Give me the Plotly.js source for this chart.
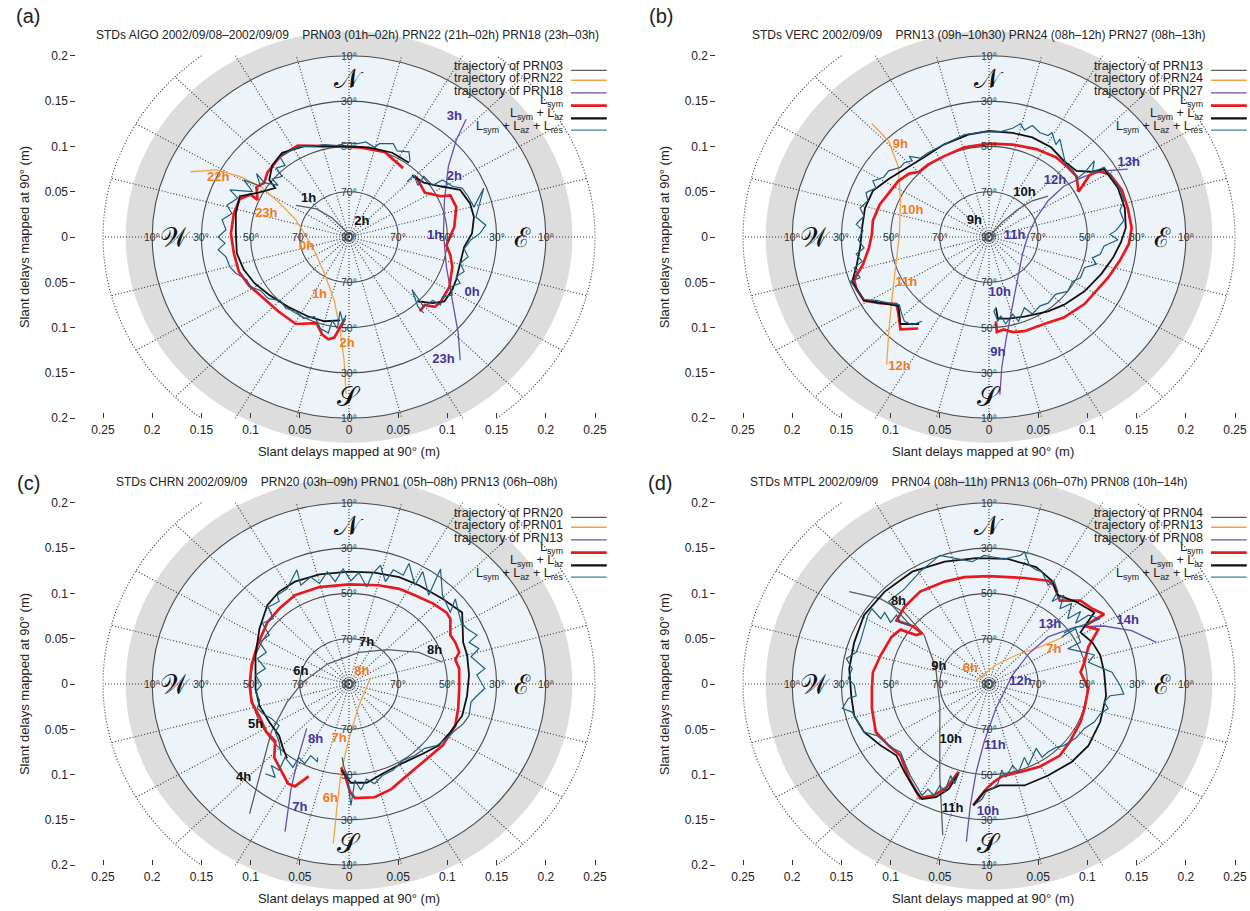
<!DOCTYPE html>
<html><head><meta charset="utf-8">
<script src="https://cdn.plot.ly/plotly-3.0.1.min.js"></script>
<style>html,body{margin:0;padding:0;background:#fff}#chart{width:1250px;height:911px}</style>
</head><body><div id="chart"></div>
<script>
// ---------------- DATA (metres, x = east, y = north) ----------------
const PANEL_LETTERS = ['(a)','(b)','(c)','(d)'];
const SUBTITLES = [
 'STDs AIGO 2002/09/08–2002/09/09\u00a0\u00a0\u00a0\u00a0PRN03 (01h–02h) PRN22 (21h–02h) PRN18 (23h–03h)',
 'STDs VERC 2002/09/09\u00a0\u00a0\u00a0\u00a0PRN13 (09h–10h30) PRN24 (08h–12h) PRN27 (08h–13h)',
 'STDs CHRN 2002/09/09\u00a0\u00a0\u00a0\u00a0PRN20 (03h–09h) PRN01 (05h–08h) PRN13 (06h–08h)',
 'STDs MTPL 2002/09/09\u00a0\u00a0\u00a0\u00a0PRN04 (08h–11h) PRN13 (06h–07h) PRN08 (10h–14h)'];
const PRN_NAMES = [['PRN03','PRN22','PRN18'],['PRN13','PRN24','PRN27'],['PRN20','PRN01','PRN13'],['PRN04','PRN13','PRN08']];
const LEGEND_TEXT = ['trajectory of ','trajectory of ','trajectory of ','L<sub>sym</sub>','L<sub>sym</sub> + L<sub>az</sub>','L<sub>sym</sub> + L<sub>az</sub> + L<sub>res</sub>'];
const X_TICKS = [-0.25,-0.2,-0.15,-0.1,-0.05,0,0.05,0.1,0.15,0.2,0.25];
const X_TICK_TEXT = ['0.25','0.2','0.15','0.1','0.05','0','0.05','0.1','0.15','0.2','0.25'];
const Y_TICKS = [-0.2,-0.15,-0.1,-0.05,0,0.05,0.1,0.15,0.2];
const Y_TICK_TEXT = ['0.2','0.15','0.1','0.05','0','0.05','0.1','0.15','0.2'];
const ELEV_RADII = [0.05,0.1,0.15,0.2];
const ELEV_LABELS = ['70°','50°','30°','10°'];
const AXIS_TITLE = 'Slant delays mapped at 90° (m)';

// ---- panel (a) AIGO ----
const A_red = [[0.055,0.076],[0.036,0.094],[0.011,0.099],[-0.009,0.100],[-0.052,0.101],[-0.070,0.089],[-0.083,0.071],[-0.086,0.060],[-0.094,0.055],[-0.093,0.041],[-0.100,0.047],[-0.111,0.042],[-0.117,0.026],[-0.120,0.004],[-0.117,-0.018],[-0.112,-0.038],[-0.102,-0.053],[-0.088,-0.067],[-0.072,-0.082],[-0.054,-0.096],[-0.033,-0.095],[-0.027,-0.108],[-0.021,-0.113],[-0.015,-0.111],[-0.010,-0.101],[-0.004,-0.090],
 null,[0.068,0.067],[0.077,0.049],[0.093,0.045],[0.103,0.046],[0.109,0.033],[0.107,0.011],[0.099,-0.009],[0.103,-0.020],[0.105,-0.033],[0.102,-0.055],[0.093,-0.072],[0.087,-0.077],[0.077,-0.075],[0.072,-0.082]];
const A_blk = [[0.061,0.082],[0.044,0.093],[0.020,0.099],[-0.009,0.100],[-0.046,0.100],[-0.068,0.093],[-0.078,0.079],[-0.081,0.063],[-0.075,0.054],[-0.092,0.049],[-0.111,0.045],[-0.115,0.026],[-0.115,0.004],[-0.114,-0.018],[-0.107,-0.036],[-0.096,-0.051],[-0.081,-0.064],[-0.062,-0.077],[-0.041,-0.088],[-0.025,-0.093],[-0.009,-0.092],
 null,[0.064,0.068],[0.076,0.060],[0.093,0.056],[0.113,0.052],[0.123,0.037],[0.127,0.022],[0.125,0.004],[0.117,-0.011],[0.113,-0.029],[0.109,-0.047],[0.105,-0.058],[0.097,-0.071],[0.085,-0.073],[0.070,-0.071]];
const A_res = [[0.062,0.083],[0.061,0.094],[0.049,0.095],[0.045,0.103],[0.031,0.103],[0.026,0.099],[0.017,0.105],[0.009,0.103],[-0.001,0.104],[-0.013,0.101],[-0.025,0.102],[-0.037,0.100],[-0.050,0.100],[-0.062,0.094],[-0.070,0.088],[-0.065,0.079],[-0.074,0.076],[-0.068,0.067],[-0.078,0.064],[-0.072,0.057],[-0.086,0.060],[-0.094,0.070],[-0.090,0.056],[-0.107,0.063],[-0.098,0.050],[-0.121,0.052],[-0.113,0.043],[-0.124,0.035],[-0.119,0.026],[-0.129,0.019],[-0.125,0.008],[-0.133,0.000],[-0.126,-0.007],[-0.133,-0.014],[-0.125,-0.022],[-0.121,-0.033],[-0.115,-0.040],[-0.104,-0.047],[-0.100,-0.055],[-0.090,-0.059],[-0.082,-0.068],[-0.070,-0.070],[-0.064,-0.079],[-0.054,-0.082],[-0.046,-0.090],[-0.035,-0.088],[-0.029,-0.101],[-0.021,-0.106],[-0.017,-0.092],[-0.012,-0.101],[-0.009,-0.082],[-0.006,-0.095],[-0.003,-0.086],
 null,[0.059,0.061],[0.066,0.068],[0.070,0.057],[0.076,0.067],[0.085,0.057],[0.095,0.063],[0.105,0.056],[0.115,0.054],[0.121,0.045],[0.127,0.033],[0.137,0.054],[0.129,0.022],[0.139,0.013],[0.133,0.004],[0.124,-0.003],[0.117,-0.013],[0.121,-0.022],[0.113,-0.029],[0.117,-0.038],[0.109,-0.044],[0.113,-0.051],[0.103,-0.055],[0.105,-0.064],[0.095,-0.066],[0.093,-0.075],[0.085,-0.070],[0.076,-0.077],[0.070,-0.068],[0.064,-0.058],[0.070,-0.077],[0.076,-0.084]];
const A_tr1 = [[-0.054,0.035],[-0.033,0.031],[-0.017,0.021],[-0.005,0.008],[0.001,0.002]];
const A_tr2 = [[-0.161,0.072],[-0.135,0.074],[-0.111,0.067],[-0.090,0.056],[-0.070,0.037],[-0.054,0.019],[-0.037,-0.011],[-0.025,-0.040],[-0.015,-0.070],[-0.009,-0.103],[-0.005,-0.136],[-0.003,-0.173]];
const A_tr3 = [[0.119,0.130],[0.109,0.107],[0.101,0.078],[0.097,0.041],[0.096,0.004],[0.099,-0.033],[0.105,-0.070],[0.111,-0.106],[0.113,-0.136]];
const A_h1 = [['1h',-0.041,0.042],['2h',0.013,0.017]];
const A_h2 = [['22h',-0.133,0.065],['23h',-0.084,0.026],['0h',-0.043,-0.011],['1h',-0.030,-0.064],['2h',-0.002,-0.118]];
const A_h3 = [['3h',0.107,0.133],['2h',0.107,0.067],['1h',0.087,0.001],['0h',0.125,-0.062],['23h',0.096,-0.135]];

// ---- panel (b) VERC ----
const B_red = [[-0.072,-0.101],[-0.090,-0.102],[-0.092,-0.085],[-0.094,-0.074],[-0.111,-0.073],[-0.127,-0.070],[-0.135,-0.057],[-0.137,-0.047],[-0.128,-0.030],[-0.122,-0.012],[-0.119,0.003],[-0.118,0.018],[-0.111,0.036],[-0.102,0.048],[-0.092,0.062],[-0.081,0.070],[-0.071,0.072],[-0.062,0.080],[-0.046,0.089],[-0.025,0.099],[0.000,0.103],[0.024,0.102],[0.048,0.097],[0.068,0.088],[0.080,0.077],[0.089,0.067],[0.091,0.050],[0.102,0.068],[0.111,0.073],[0.123,0.069],[0.135,0.052],[0.141,0.032],[0.145,0.010],[0.142,-0.008],[0.133,-0.026],[0.121,-0.045],[0.109,-0.060],[0.097,-0.074],[0.076,-0.089],[0.056,-0.096],[0.036,-0.104],[0.024,-0.105],[0.015,-0.102],[0.008,-0.105],[0.007,-0.093]];
const B_blk = [[-0.071,-0.096],[-0.090,-0.096],[-0.092,-0.076],[-0.111,-0.073],[-0.127,-0.070],[-0.139,-0.049],[-0.135,-0.034],[-0.131,-0.012],[-0.129,0.010],[-0.126,0.032],[-0.118,0.051],[-0.102,0.064],[-0.082,0.077],[-0.066,0.088],[-0.046,0.102],[-0.021,0.113],[0.000,0.117],[0.024,0.115],[0.044,0.110],[0.063,0.099],[0.076,0.084],[0.089,0.073],[0.103,0.072],[0.117,0.075],[0.131,0.054],[0.138,0.032],[0.139,0.010],[0.134,-0.006],[0.126,-0.023],[0.114,-0.041],[0.097,-0.060],[0.076,-0.075],[0.060,-0.082],[0.036,-0.088],[0.020,-0.090],[0.009,-0.090],[0.007,-0.078]];
const B_res = [[-0.068,-0.093],[-0.078,-0.097],[-0.086,-0.093],[-0.089,-0.084],[-0.091,-0.075],[-0.102,-0.073],[-0.115,-0.070],[-0.127,-0.069],[-0.133,-0.060],[-0.141,-0.049],[-0.131,-0.045],[-0.137,-0.034],[-0.129,-0.027],[-0.135,-0.019],[-0.127,-0.012],[-0.133,-0.003],[-0.128,0.007],[-0.135,0.014],[-0.127,0.023],[-0.131,0.032],[-0.123,0.040],[-0.125,0.049],[-0.115,0.054],[-0.118,0.062],[-0.107,0.066],[-0.102,0.073],[-0.090,0.077],[-0.086,0.082],[-0.078,0.084],[-0.081,0.089],[-0.070,0.087],[-0.062,0.093],[-0.046,0.102],[-0.025,0.113],[-0.005,0.116],[0.011,0.116],[0.024,0.120],[0.032,0.125],[0.036,0.118],[0.044,0.123],[0.052,0.115],[0.060,0.112],[0.064,0.115],[0.068,0.102],[0.072,0.108],[0.076,0.088],[0.078,0.080],[0.085,0.075],[0.089,0.064],[0.097,0.071],[0.107,0.084],[0.105,0.071],[0.117,0.077],[0.123,0.069],[0.133,0.053],[0.137,0.040],[0.133,0.029],[0.137,0.018],[0.129,0.007],[0.123,0.003],[0.131,-0.003],[0.117,-0.010],[0.113,-0.019],[0.105,-0.023],[0.109,-0.030],[0.097,-0.034],[0.093,-0.045],[0.085,-0.049],[0.080,-0.060],[0.068,-0.063],[0.060,-0.073],[0.052,-0.076],[0.044,-0.085],[0.036,-0.078],[0.030,-0.093],[0.024,-0.085],[0.017,-0.096],[0.012,-0.087],[0.009,-0.093],[0.005,-0.082],[0.007,-0.078]];
const B_tr1 = [[0.000,0.000],[0.013,0.016],[0.030,0.031],[0.044,0.040],[0.060,0.045]];
const B_tr2 = [[-0.119,0.125],[-0.102,0.106],[-0.092,0.077],[-0.090,0.040],[-0.091,0.003],[-0.095,-0.034],[-0.099,-0.071],[-0.102,-0.107],[-0.104,-0.141]];
const B_tr3 = [[0.141,0.075],[0.117,0.073],[0.097,0.067],[0.076,0.056],[0.060,0.040],[0.048,0.021],[0.040,0.003],[0.034,-0.019],[0.030,-0.041],[0.026,-0.063],[0.022,-0.089],[0.017,-0.115],[0.013,-0.144],[0.011,-0.174]];
const B_h1 = [['9h',-0.015,0.018],['10h',0.036,0.049]];
const B_h2 = [['9h',-0.090,0.102],['10h',-0.078,0.029],['11h',-0.084,-0.050],['12h',-0.091,-0.143]];
const B_h3 = [['13h',0.142,0.082],['12h',0.067,0.062],['11h',0.026,0.001],['10h',0.011,-0.062],['9h',0.009,-0.128]];

// ---- panel (c) CHRN ----
const C_red = [[-0.008,-0.092],[-0.004,-0.101],[0.001,-0.119],[0.006,-0.126],[0.026,-0.125],[0.043,-0.116],[0.059,-0.101],[0.075,-0.086],[0.095,-0.068],[0.108,-0.046],[0.111,-0.027],[0.112,-0.005],[0.112,0.017],[0.108,0.027],[0.112,0.035],[0.108,0.046],[0.103,0.054],[0.103,0.072],[0.099,0.079],[0.085,0.089],[0.067,0.098],[0.051,0.105],[0.030,0.109],[0.000,0.110],[-0.030,0.107],[-0.055,0.098],[-0.071,0.083],[-0.083,0.068],[-0.093,0.043],[-0.099,0.021],[-0.101,-0.001],[-0.099,-0.020],[-0.091,-0.036],[-0.084,-0.053],[-0.075,-0.063],[-0.076,-0.081],[-0.071,-0.092],[-0.062,-0.110],[-0.055,-0.113],[-0.041,-0.102]];
const C_blk = [[-0.008,-0.095],[0.002,-0.109],[0.018,-0.109],[0.034,-0.099],[0.055,-0.087],[0.075,-0.077],[0.091,-0.068],[0.103,-0.053],[0.115,-0.035],[0.120,-0.013],[0.122,0.010],[0.120,0.032],[0.116,0.046],[0.115,0.079],[0.095,0.094],[0.071,0.109],[0.051,0.118],[0.026,0.123],[0.000,0.124],[-0.030,0.121],[-0.055,0.113],[-0.071,0.102],[-0.083,0.087],[-0.091,0.061],[-0.095,0.032],[-0.095,-0.005],[-0.091,-0.024],[-0.081,-0.042],[-0.071,-0.057],[-0.067,-0.071],[-0.063,-0.082]];
const C_res = [[-0.085,-0.099],[-0.075,-0.103],[-0.079,-0.090],[-0.071,-0.095],[-0.065,-0.081],[-0.057,-0.092],[-0.051,-0.081],[-0.045,-0.088],[-0.039,-0.079],[-0.032,-0.086],[-0.032,-0.081],
 null,[-0.069,-0.079],[-0.071,-0.064],[-0.075,-0.053],[-0.071,-0.046],[-0.079,-0.038],[-0.087,-0.033],[-0.093,-0.027],[-0.091,-0.018],[-0.095,-0.009],[-0.089,-0.001],[-0.095,0.010],[-0.085,0.017],[-0.093,0.028],[-0.084,0.035],[-0.091,0.046],[-0.081,0.054],[-0.088,0.067],[-0.077,0.072],[-0.082,0.085],[-0.071,0.091],[-0.073,0.098],[-0.063,0.105],[-0.053,0.126],[-0.049,0.109],[-0.039,0.118],[-0.030,0.111],[-0.022,0.124],[-0.014,0.113],[-0.006,0.127],[0.002,0.114],[0.010,0.123],[0.018,0.107],[0.024,0.122],[0.032,0.131],[0.037,0.113],[0.045,0.126],[0.055,0.120],[0.061,0.133],[0.067,0.109],[0.075,0.124],[0.081,0.098],[0.087,0.113],[0.093,0.127],[0.095,0.098],[0.103,0.079],[0.108,0.094],[0.114,0.068],[0.120,0.061],[0.130,0.054],[0.122,0.046],[0.132,0.039],[0.124,0.030],[0.138,0.017],[0.130,0.010],[0.138,-0.005],[0.130,-0.013],[0.124,-0.020],[0.122,-0.035],[0.116,-0.044],[0.108,-0.051],[0.099,-0.060],[0.089,-0.068],[0.077,-0.071],[0.067,-0.079],[0.055,-0.084],[0.045,-0.095],[0.034,-0.101],[0.026,-0.110],[0.018,-0.105],[0.012,-0.117],[0.006,-0.106],[0.002,-0.134],[-0.002,-0.101],[-0.005,-0.092],[-0.007,-0.081]];
const C_tr1 = [[-0.101,-0.143],[-0.091,-0.101],[-0.079,-0.053],[-0.063,-0.020],[-0.047,0.002],[-0.022,0.022],[0.010,0.035],[0.039,0.038],[0.071,0.035],[0.095,0.024]];
const C_tr2 = [[0.022,0.007],[0.010,-0.024],[0.000,-0.060],[-0.008,-0.097],[-0.012,-0.134],[-0.016,-0.176]];
const C_tr3 = [[-0.043,-0.049],[-0.051,-0.079],[-0.059,-0.116],[-0.065,-0.163]];
const C_h1 = [['4h',-0.107,-0.104],['5h',-0.095,-0.045],['6h',-0.049,0.013],['7h',0.018,0.045],['8h',0.087,0.037]];
const C_h2 = [['8h',0.013,0.013],['7h',-0.010,-0.060],['6h',-0.019,-0.127]];
const C_h3 = [['8h',-0.034,-0.061],['7h',-0.050,-0.137]];

// ---- panel (d) MTPL ----
const D_red = [[-0.016,-0.134],[-0.011,-0.127],[-0.003,-0.116],[0.005,-0.108],[0.013,-0.102],[0.032,-0.097],[0.052,-0.091],[0.072,-0.079],[0.082,-0.064],[0.093,-0.042],[0.097,-0.027],[0.101,-0.005],[0.093,0.013],[0.097,0.024],[0.101,0.041],[0.111,0.060],[0.097,0.064],[0.117,0.077],[0.105,0.083],[0.093,0.092],[0.072,0.092],[0.066,0.109],[0.060,0.114],[0.036,0.117],[0.000,0.119],[-0.025,0.118],[-0.045,0.113],[-0.070,0.102],[-0.086,0.085],[-0.094,0.070],[-0.078,0.064],[-0.068,0.056],[-0.074,0.054],[-0.090,0.060],[-0.099,0.052],[-0.110,0.032],[-0.118,0.013],[-0.119,-0.005],[-0.119,-0.027],[-0.115,-0.053],[-0.102,-0.068],[-0.090,-0.079],[-0.081,-0.105],[-0.070,-0.126],[-0.056,-0.123],[-0.043,-0.114],[-0.031,-0.097]];
const D_blk = [[-0.031,-0.099],[-0.041,-0.116],[-0.054,-0.125],[-0.068,-0.127],[-0.074,-0.119],[-0.086,-0.097],[-0.094,-0.079],[-0.110,-0.068],[-0.127,-0.053],[-0.137,-0.035],[-0.140,-0.013],[-0.142,0.017],[-0.137,0.046],[-0.127,0.076],[-0.106,0.102],[-0.078,0.124],[-0.045,0.135],[-0.013,0.139],[0.019,0.138],[0.048,0.129],[0.064,0.114],[0.070,0.098],[0.088,0.091],[0.107,0.079],[0.093,0.057],[0.105,0.046],[0.113,0.032],[0.117,0.013],[0.119,-0.013],[0.113,-0.042],[0.101,-0.068],[0.084,-0.086],[0.060,-0.101],[0.036,-0.112],[0.011,-0.112],[-0.005,-0.119],[-0.016,-0.134]];
const D_res = [[-0.030,-0.097],[-0.035,-0.110],[-0.039,-0.101],[-0.045,-0.119],[-0.050,-0.112],[-0.056,-0.123],[-0.062,-0.116],[-0.068,-0.123],[-0.074,-0.112],[-0.080,-0.101],[-0.086,-0.086],[-0.090,-0.075],[-0.098,-0.071],[-0.106,-0.064],[-0.114,-0.057],[-0.127,-0.053],[-0.135,-0.038],[-0.139,-0.031],[-0.149,-0.027],[-0.143,-0.016],[-0.135,-0.013],[-0.137,-0.001],[-0.143,0.006],[-0.139,0.017],[-0.145,0.028],[-0.135,0.035],[-0.131,0.046],[-0.127,0.061],[-0.123,0.076],[-0.119,0.083],[-0.110,0.072],[-0.106,0.079],[-0.100,0.068],[-0.094,0.076],[-0.090,0.068],[-0.080,0.065],[-0.102,0.091],[-0.086,0.105],[-0.070,0.124],[-0.050,0.142],[-0.033,0.138],[-0.017,0.135],[-0.005,0.142],[0.015,0.138],[0.032,0.142],[0.036,0.146],[0.041,0.131],[0.048,0.126],[0.054,0.124],[0.060,0.109],[0.066,0.114],[0.070,0.102],[0.064,0.091],[0.076,0.098],[0.072,0.083],[0.084,0.089],[0.080,0.072],[0.093,0.080],[0.088,0.067],[0.101,0.076],[0.113,0.072],[0.101,0.067],[0.084,0.061],[0.076,0.056],
 null,[0.074,0.052],[0.088,0.061],[0.093,0.046],[0.080,0.039],[0.097,0.035],[0.107,0.032],[0.101,0.024],[0.117,0.017],[0.125,0.013],[0.133,-0.001],[0.137,-0.011],[0.123,-0.013],[0.117,-0.020],[0.121,-0.027],[0.113,-0.033],[0.107,-0.042],[0.097,-0.049],[0.088,-0.060],[0.076,-0.068],[0.068,-0.070],[0.060,-0.075],[0.054,-0.081],[0.048,-0.071],[0.040,-0.090],[0.036,-0.081],[0.030,-0.097],[0.024,-0.090],[0.017,-0.103],[0.013,-0.095],[0.009,-0.110],[0.003,-0.116],[-0.003,-0.119],[-0.007,-0.127],[-0.013,-0.132]];
const D_tr1 = [[-0.142,0.102],[-0.110,0.094],[-0.086,0.079],[-0.066,0.054],[-0.054,0.017],[-0.050,-0.024],[-0.050,-0.064],[-0.050,-0.101],[-0.047,-0.167]];
const D_tr2 = [[-0.013,0.004],[0.007,0.021],[0.028,0.032],[0.052,0.041],[0.076,0.052]];
const D_tr3 = [[0.170,0.046],[0.145,0.059],[0.117,0.064],[0.088,0.063],[0.060,0.052],[0.040,0.033],[0.024,0.010],[0.007,-0.027],[-0.005,-0.064],[-0.013,-0.097],[-0.019,-0.134],[-0.023,-0.174]];
const D_h1 = [['8h',-0.092,0.091],['9h',-0.051,0.019],['10h',-0.039,-0.062],['11h',-0.037,-0.138]];
const D_h2 = [['6h',-0.019,0.017],['7h',0.066,0.038]];
const D_h3 = [['14h',0.141,0.070],['13h',0.062,0.065],['12h',0.032,0.002],['11h',0.006,-0.068],['10h',-0.001,-0.141]];

// ---------------- LAYOUT / STYLE ----------------
const W = 1250, H = 911;
const XS = 984, YS = 906;           // pixels per metre
const FONT = 'Liberation Sans, Arial, Helvetica, sans-serif';
const PANELS = [
  {cx:349, cy:237, sub:-0.002, let:[28,16],  red:A_red, blk:A_blk, res:A_res, tr:[A_tr1,A_tr2,A_tr3], hr:[A_h1,A_h2,A_h3]},
  {cx:989, cy:237, sub:-0.010, let:[661,16], red:B_red, blk:B_blk, res:B_res, tr:[B_tr1,B_tr2,B_tr3], hr:[B_h1,B_h2,B_h3]},
  {cx:349, cy:684, sub:-0.012, let:[28,483], red:C_red, blk:C_blk, res:C_res, tr:[C_tr1,C_tr2,C_tr3], hr:[C_h1,C_h2,C_h3]},
  {cx:989, cy:684, sub:-0.020, let:[660,483],red:D_red, blk:D_blk, res:D_res, tr:[D_tr1,D_tr2,D_tr3], hr:[D_h1,D_h2,D_h3]}
];
const TR_COL = ['#5c5c5c','#f5a243','#6a4db0'];
const HR_COL = ['#111111','#f07c1c','#45329c'];
const COL_RED = '#e8191c', COL_BLK = '#111111', COL_RES = '#1f5f7e';
const DOT = '1px,2px';

function xs(p){return p.map(q=>q?q[0]:null);}
function ys(p){return p.map(q=>q?q[1]:null);}

const traces = [], shapes = [], annotations = [];
const layout = {
  width:W, height:H, margin:{l:0,r:0,t:0,b:0}, paper_bgcolor:'#fff', plot_bgcolor:'rgba(0,0,0,0)',
  showlegend:false, font:{family:FONT, color:'#222'}, shapes, annotations
};

PANELS.forEach((P,i)=>{
  const n = i===0?'':String(i+1);
  const xr = 'x'+n, yr = 'y'+n;
  const xmin = -0.277, xmax = Math.min(0.277, (W - P.cx)/XS - 1e-4);
  const ymin = -0.24, ymax = 0.24;
  const d0 = Math.max(0,(P.cx + xmin*XS)/W), d1 = Math.min(1,(P.cx + xmax*XS)/W);
  const e0 = 1 - (P.cy - ymin*YS)/H, e1 = 1 - (P.cy - ymax*YS)/H;
  layout['xaxis'+n] = {domain:[d0,d1], range:[xmin,xmax], anchor:'free', position:1-(P.cy+0.2*YS)/H,
    showgrid:false, zeroline:false, showline:false, ticks:'inside', ticklen:5, tickwidth:1, tickcolor:'#333',
    tickvals:X_TICKS, ticktext:X_TICK_TEXT, tickfont:{size:12,family:FONT,color:'#222'}, ticklabelstandoff:3,
    title:{text:AXIS_TITLE, font:{size:13,family:FONT,color:'#222'}, standoff:10}, fixedrange:true};
  layout['yaxis'+n] = {domain:[e0,e1], range:[ymin,ymax], anchor:xr,
    showgrid:false, zeroline:false, showline:false, ticks:'outside', ticklen:5, tickwidth:1, tickcolor:'#333',
    tickvals:Y_TICKS, ticktext:Y_TICK_TEXT, tickfont:{size:12,family:FONT,color:'#222'},
    title:{text:AXIS_TITLE, font:{size:13,family:FONT,color:'#222'}, standoff:12}, fixedrange:true};

  const S = (o)=>shapes.push(Object.assign({xref:xr, yref:yr, layer:'below'}, o));
  // horizon ring and sky disk
  S({type:'circle', x0:-0.227,x1:0.227,y0:-0.227,y1:0.227, fillcolor:'#dddddd', line:{width:0}});
  S({type:'circle', x0:-0.2,x1:0.2,y0:-0.2,y1:0.2, fillcolor:'#edf4f9', line:{width:0}});
  // radial azimuth lines every 15 deg, clipped to |y|<=0.2
  for(let k=0;k<24;k++){
    const a = k*15*Math.PI/180, s=Math.sin(a), c=Math.cos(a);
    let t = 0.25; if(Math.abs(0.25*c)>0.2) t = 0.2/Math.abs(c);
    S({type:'line', x0:0,y0:0,x1:t*s,y1:t*c, line:{color:'#333',width:1.1,dash:DOT}});
  }
  // outer dotted circle r=0.25 (clipped to |y|<=0.2)
  const lim = Math.asin(0.8);
  [0, Math.PI].forEach(base=>{
    let path='';
    for(let j=0;j<=40;j++){
      const a = base - lim + 2*lim*j/40;
      path += (j?'L':'M') + (0.25*Math.cos(a)).toFixed(5)+','+(0.25*Math.sin(a)).toFixed(5);
    }
    S({type:'path', path, line:{color:'#333',width:1.1,dash:DOT}});
  });
  // elevation circles
  ELEV_RADII.forEach(r=>S({type:'circle', x0:-r,x1:r,y0:-r,y1:r, line:{color:'#4a4a4a',width:1.1}}));
  S({type:'circle', x0:-0.005,x1:0.005,y0:-0.005,y1:0.005, line:{color:'#4a4a4a',width:1}});

  // elevation labels
  const EL = (txt,x,y)=>annotations.push({xref:xr,yref:yr,x,y,text:txt,showarrow:false,
    font:{size:10.5,family:FONT,color:'#333'},xanchor:'center',yanchor:'middle'});
  ELEV_RADII.forEach((r,k)=>{ EL(ELEV_LABELS[k],0,r); EL(ELEV_LABELS[k],0,-r); EL(ELEV_LABELS[k],r,0); EL(ELEV_LABELS[k],-r,0); });
  EL('90°',0,0);
  // cardinal letters
  const CL = (txt,x,y)=>annotations.push({xref:xr,yref:yr,x,y,text:txt,showarrow:false,
    font:{size:27,family:'DejaVu Serif, serif',color:'#111'},xanchor:'center',yanchor:'middle'});
  CL('𝒩',0,0.175); CL('𝒮',0,-0.176); CL('𝒲',-0.176,0); CL('ℰ',0.176,0);

  // subtitle and panel letter
  annotations.push({xref:xr,yref:yr,x:P.sub,y:0.223,text:SUBTITLES[i],showarrow:false,
    font:{size:12,family:FONT,color:'#222'},xanchor:'center',yanchor:'middle'});
  annotations.push({xref:'paper',yref:'paper',x:P.let[0]/W,y:1-P.let[1]/H,text:PANEL_LETTERS[i],showarrow:false,
    font:{size:20,family:FONT,color:'#222'},xanchor:'center',yanchor:'middle'});

  // legend (text right-aligned, sample on the right)
  const LT = [0.189,0.1755,0.161,0.1505,0.1355,0.1215];
  const LL = [0.184,0.173,0.159,0.145,0.131,0.118];
  const LC = [TR_COL[0],TR_COL[1],TR_COL[2],COL_RED,COL_BLK,'#3b82a6'];
  const LW = [1.3,1.3,1.3,2.6,2.2,1.3];
  for(let k=0;k<6;k++){
    const txt = k<3 ? LEGEND_TEXT[k]+PRN_NAMES[i][k] : LEGEND_TEXT[k];
    annotations.push({xref:xr,yref:yr,x:0.2195,y:LT[k],text:txt,showarrow:false,
      font:{size:12.5,family:FONT,color:'#222'},xanchor:'right',yanchor:'middle'});
    shapes.push({type:'line',xref:xr,yref:yr,layer:'above',x0:0.2256,x1:0.262,y0:LL[k],y1:LL[k],line:{color:LC[k],width:LW[k]}});
  }

  // data traces
  const L = (pts,col,w)=>traces.push({type:'scatter',mode:'lines',x:xs(pts),y:ys(pts),xaxis:xr,yaxis:yr,
    line:{color:col,width:w},hoverinfo:'skip',connectgaps:false,cliponaxis:false});
  P.tr.forEach((t,k)=>L(t,TR_COL[k],1.3));
  L(P.red,COL_RED,2.7);
  L(P.blk,COL_BLK,1.8);
  L(P.res,COL_RES,1.2);
  P.hr.forEach((h,k)=>traces.push({type:'scatter',mode:'text',x:h.map(v=>v[1]),y:h.map(v=>v[2]),
    text:h.map(v=>'<b>'+v[0]+'</b>'),xaxis:xr,yaxis:yr,textposition:'middle center',cliponaxis:false,
    textfont:{size:13,family:FONT,color:HR_COL[k]},hoverinfo:'skip'}));
});

Plotly.newPlot('chart', traces, layout, {staticPlot:true, displayModeBar:false});
</script></body></html>
